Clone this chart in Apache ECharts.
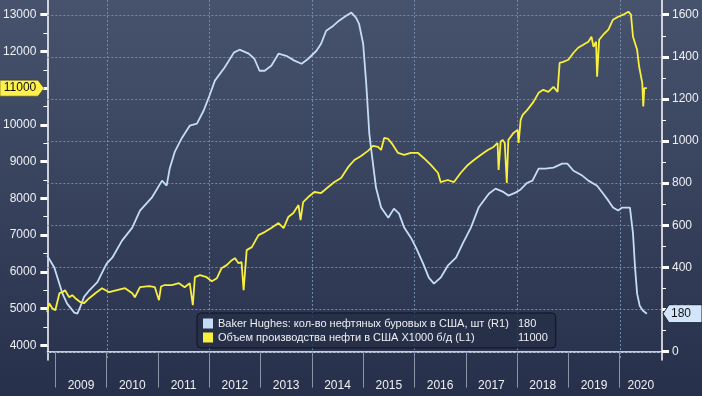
<!DOCTYPE html>
<html><head><meta charset="utf-8">
<script src="https://cdn.jsdelivr.net/npm/echarts@6/dist/echarts.min.js"></script>
<style>html,body{margin:0;padding:0;background:#2e3953}#c{width:702px;height:396px}</style>
</head><body><div id="c"></div>
<script>
const rigName = 'Baker Hughes: кол-во нефтяных буровых в США, шт (R1)';
const prodName = 'Объем производства нефти в США X1000 б/д (L1)';

const rigYears = [
  2008.84, 2008.98, 2009.14, 2009.23, 2009.37, 2009.43, 2009.49, 2009.56, 2009.66, 2009.82,
  2010.00, 2010.11, 2010.30, 2010.50, 2010.65, 2010.88, 2011.08, 2011.17, 2011.23, 2011.33,
  2011.47, 2011.62, 2011.76, 2011.89, 2011.99, 2012.11, 2012.30, 2012.48, 2012.59, 2012.77,
  2012.88, 2012.98, 2013.08, 2013.21, 2013.35, 2013.50, 2013.66, 2013.80, 2013.93, 2014.09,
  2014.18, 2014.28, 2014.42, 2014.53, 2014.67, 2014.77, 2014.86, 2014.92, 2015.00, 2015.06,
  2015.12, 2015.16, 2015.25, 2015.35, 2015.49, 2015.60, 2015.70, 2015.80, 2015.93, 2016.03,
  2016.17, 2016.28, 2016.38, 2016.51, 2016.65, 2016.81, 2016.94, 2017.10, 2017.25, 2017.45,
  2017.58, 2017.72, 2017.83, 2017.97, 2018.07, 2018.20, 2018.30, 2018.42, 2018.55, 2018.71,
  2018.88, 2018.98, 2019.10, 2019.27, 2019.39, 2019.56, 2019.68, 2019.78, 2019.87, 2019.97,
  2020.05, 2020.20, 2020.26, 2020.30, 2020.34, 2020.39, 2020.45, 2020.53
];
const rigValues = [
  456, 399, 275, 228, 185, 180, 215, 260, 290, 330,
  418, 446, 527, 589, 670, 731, 812, 788, 870, 950,
  1016, 1073, 1083, 1144, 1206, 1287, 1349, 1420, 1434, 1415,
  1391, 1334, 1334, 1358, 1415, 1405, 1382, 1367, 1391, 1429,
  1462, 1524, 1548, 1572, 1595, 1610, 1586, 1557, 1462, 1273,
  1035, 954, 779, 684, 636, 679, 655, 589, 541, 494,
  418, 351, 323, 351, 408, 446, 513, 589, 684, 750,
  774, 760, 741, 755, 770, 802, 812, 869, 869, 874,
  893, 893, 859, 836, 812, 788, 750, 717, 684, 670,
  684, 684, 560, 399, 275, 218, 195, 180
];

const prodYears = [
  2008.84, 2008.88, 2008.94, 2009.00, 2009.08, 2009.14, 2009.19, 2009.27, 2009.33, 2009.39,
  2009.49, 2009.56, 2009.66, 2009.78, 2009.91, 2010.05, 2010.20, 2010.36, 2010.50, 2010.55,
  2010.65, 2010.83, 2010.94, 2011.02, 2011.06, 2011.12, 2011.27, 2011.41, 2011.52, 2011.62,
  2011.68, 2011.72, 2011.82, 2011.95, 2012.05, 2012.15, 2012.24, 2012.34, 2012.44, 2012.50,
  2012.57, 2012.63, 2012.67, 2012.73, 2012.83, 2012.96, 2013.08, 2013.21, 2013.35, 2013.45,
  2013.54, 2013.64, 2013.74, 2013.78, 2013.83, 2013.93, 2014.05, 2014.18, 2014.32, 2014.44,
  2014.57, 2014.71, 2014.83, 2014.96, 2015.10, 2015.19, 2015.29, 2015.35, 2015.41, 2015.49,
  2015.58, 2015.68, 2015.80, 2015.93, 2016.07, 2016.18, 2016.32, 2016.46, 2016.51, 2016.65,
  2016.77, 2016.90, 2017.04, 2017.16, 2017.29, 2017.43, 2017.54, 2017.62, 2017.64, 2017.68,
  2017.72, 2017.76, 2017.80, 2017.83, 2017.93, 2018.01, 2018.03, 2018.07, 2018.11, 2018.20,
  2018.32, 2018.42, 2018.51, 2018.61, 2018.71, 2018.79, 2018.83, 2018.90, 2019.00, 2019.10,
  2019.19, 2019.29, 2019.39, 2019.45, 2019.49, 2019.54, 2019.56, 2019.60, 2019.68, 2019.78,
  2019.87, 2019.97, 2020.07, 2020.17, 2020.22, 2020.26, 2020.34, 2020.38, 2020.44, 2020.46,
  2020.48, 2020.53
];
const prodValues = [
  4900, 5145, 5009, 4954, 5418, 5445, 5500, 5309, 5364, 5282,
  5173, 5145, 5282, 5418, 5554, 5445, 5500, 5554, 5418, 5309,
  5582, 5609, 5582, 5227, 5600, 5636, 5636, 5691, 5582, 5691,
  5091, 5854, 5909, 5854, 5745, 5827, 6100, 6182, 6318, 6373,
  6236, 6264, 5500, 6591, 6673, 7000, 7082, 7191, 7327, 7191,
  7491, 7600, 7818, 7409, 7900, 8036, 8173, 8145, 8309, 8445,
  8555, 8855, 9045, 9155, 9300, 9427, 9400, 9318, 9645, 9618,
  9455, 9236, 9182, 9236, 9236, 9100, 8909, 8691, 8445, 8500,
  8445, 8691, 8909, 9045, 9182, 9318, 9400, 9509, 8773, 9550,
  9591, 9509, 8418, 9591, 9782, 9864, 9509, 10136, 10273, 10409,
  10627, 10873, 10955, 10900, 11036, 10900, 11691, 11718, 11773, 11964,
  12100, 12182, 12264, 12400, 12127, 12264, 11309, 12318, 12455, 12591,
  12864, 12945, 13000, 13082, 13000, 12400, 12045, 11582, 11145, 10500,
  11000, 11000
];

const leftTicks = [4000, 5000, 6000, 7000, 8000, 9000, 10000, 11000, 12000, 13000];
const leftMinorTicks = [4500, 5500, 6500, 7500, 8500, 9500, 10500, 11500, 12500];
const rightTicks = [0, 200, 400, 600, 800, 1000, 1200, 1400, 1600];
const rightMinorTicks = [100, 300, 500, 700, 900, 1100, 1300, 1500];
const yearTicks = [2009, 2010, 2011, 2012, 2013, 2014, 2015, 2016, 2017, 2018, 2019, 2020];
const gridYears = [2010, 2012, 2014, 2016, 2018, 2020];

const X_MIN = 2008.845, X_MAX = 2020.825;
const L_MIN = 3600, L_MAX = 13400, R_MIN = -40, R_MAX = 1670;
const FONT = 'Liberation Sans, Arial, sans-serif';
const TXT = '#eef0f4';
const BLUE = '#c6dcf6';
const YELLOW = '#f8ef3e';
const GRIDC = '#7189aa';

const rigData = rigYears.map((y, i) => [y, rigValues[i]]);
const prodData = prodYears.map((y, i) => [y, prodValues[i]]);
const lastRig = rigValues[rigValues.length - 1];
const lastProd = prodValues[prodValues.length - 1];
const yearLabelPos = yearTicks.map(y => Math.min(y + 0.5, (y + X_MAX) / 2));
const plain = v => String(Math.round(v));

const chart = echarts.init(document.getElementById('c'), null, {renderer: 'canvas'});
const axisLine = {show: true, lineStyle: {color: '#ffffff', width: 1.5}};
const option = {
  animation: false,
  backgroundColor: {type: 'linear', x: 0, y: 0, x2: 0, y2: 1,
    colorStops: [{offset: 0, color: '#47536d'}, {offset: 1, color: '#27304a'}]},
  grid: {left: 45, right: 40, top: 0, bottom: 36, containLabel: false},
  xAxis: [{
    type: 'value', min: X_MIN, max: X_MAX,
    axisLine: axisLine,
    axisTick: {show: true, customValues: yearTicks, length: 36, lineStyle: {color: '#8c95a8', width: 1}},
    axisLabel: {show: true, customValues: yearLabelPos, formatter: v => String(Math.floor(v)),
      color: TXT, fontSize: 12, fontFamily: FONT, margin: 20},
    splitLine: {show: false}
  }],
  yAxis: [
    {type: 'value', position: 'left', min: L_MIN, max: L_MAX,
      axisLine: axisLine,
      axisTick: {show: true, customValues: leftTicks, length: 7, lineStyle: {color: '#fff', width: 3}},
      axisLabel: {show: true, customValues: leftTicks, formatter: plain, color: TXT, fontSize: 12, fontFamily: FONT, margin: 11},
      splitLine: {show: false}},
    {type: 'value', position: 'left', min: L_MIN, max: L_MAX,
      axisLine: {show: false},
      axisTick: {show: true, customValues: leftMinorTicks, length: 4, lineStyle: {color: '#fff', width: 1}},
      axisLabel: {show: false}, splitLine: {show: false}},
    {type: 'value', position: 'right', min: R_MIN, max: R_MAX,
      axisLine: axisLine,
      axisTick: {show: true, customValues: rightTicks, length: 7, lineStyle: {color: '#fff', width: 3}},
      axisLabel: {show: true, customValues: rightTicks, formatter: plain, color: TXT, fontSize: 12, fontFamily: FONT, margin: 10},
      splitLine: {show: false}},
    {type: 'value', position: 'right', min: R_MIN, max: R_MAX,
      axisLine: {show: false},
      axisTick: {show: true, customValues: rightMinorTicks, length: 4, lineStyle: {color: '#fff', width: 1}},
      axisLabel: {show: false}, splitLine: {show: false}}
  ],
  legend: {
    show: true, left: 197, top: 313, orient: 'vertical',
    data: [rigName, prodName],
    icon: 'rect', itemWidth: 10, itemHeight: 10, itemGap: 3,
    padding: [5, 8, 5, 6],
    backgroundColor: 'rgba(38,47,70,0.85)', borderColor: '#0e1322', borderWidth: 1, borderRadius: 4,
    selectedMode: false,
    formatter: name => `{n|${name}}{v|${name === rigName ? lastRig : lastProd}}`,
    textStyle: {color: TXT, fontSize: 11, fontFamily: FONT,
      rich: {n: {width: 300, color: TXT, fontSize: 11, fontFamily: FONT},
             v: {color: TXT, fontSize: 11, fontFamily: FONT}}}
  },
  series: [
    {name: rigName, type: 'line', data: rigData, xAxisIndex: 0, yAxisIndex: 2, z: 3,
      showSymbol: false, color: BLUE, lineStyle: {color: BLUE, width: 1.8}},
    {name: prodName, type: 'line', data: prodData, xAxisIndex: 0, yAxisIndex: 0, z: 4,
      showSymbol: false, color: YELLOW, lineStyle: {color: YELLOW, width: 1.8}}
  ]
};
chart.setOption(option);

// gridlines and value tags, positioned through the chart's own scales
const px = v => chart.convertToPixel({xAxisIndex: 0}, v);
const pyL = v => chart.convertToPixel({yAxisIndex: 0}, v);
const pyR = v => chart.convertToPixel({yAxisIndex: 2}, v);
const gx0 = px(X_MIN), gx1 = px(X_MAX), gyTop = pyR(R_MAX), gyBot = pyR(R_MIN);
const crisp = v => Math.round(v) + 0.5;
const gridEls = [];
rightTicks.forEach(v => {
  const y = crisp(pyR(v));
  gridEls.push({type: 'line', z: 1, silent: true, shape: {x1: gx0, y1: y, x2: gx1, y2: y},
    style: {stroke: GRIDC, lineWidth: 1, lineDash: [2, 2]}});
});
gridYears.forEach(v => {
  const x = crisp(px(v));
  gridEls.push({type: 'line', z: 1, silent: true, shape: {x1: x, y1: gyTop, x2: x, y2: gyBot},
    style: {stroke: GRIDC, lineWidth: 1, lineDash: [2, 2]}});
});

const yL = pyL(lastProd);
const yR = pyR(lastRig);
const xR = gx1 + 1;
chart.setOption({
  graphic: gridEls.concat([
    {type: 'polygon', z: 100, shape: {points: [[0, yL - 8], [38, yL - 8], [44, yL], [38, yL + 8], [0, yL + 8]]},
      style: {fill: '#fff04c', stroke: '#3a3a20', lineWidth: 0.5}},
    {type: 'text', z: 101, x: 20, y: yL, style: {text: String(lastProd), fill: '#111', font: '12px ' + FONT,
      textAlign: 'center', textVerticalAlign: 'middle'}},
    {type: 'polygon', z: 100, shape: {points: [[xR, yR], [xR + 6, yR - 9], [702, yR - 9], [702, yR + 9], [xR + 6, yR + 9]]},
      style: {fill: '#d3e5fb', stroke: '#1a2338', lineWidth: 1}},
    {type: 'text', z: 101, x: xR + 8, y: yR, style: {text: String(lastRig), fill: '#111', font: '12px ' + FONT,
      textAlign: 'left', textVerticalAlign: 'middle'}}
  ])
});
</script></body></html>
